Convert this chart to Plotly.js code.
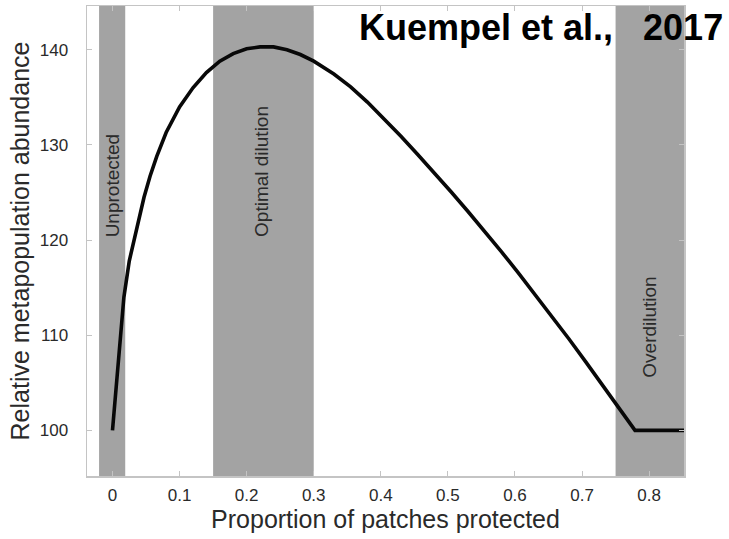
<!DOCTYPE html>
<html>
<head>
<meta charset="utf-8">
<script src="https://cdn.plot.ly/plotly-3.0.1.min.js"></script>
<style>
  html, body { margin: 0; padding: 0; background: #ffffff; }
  #chart { width: 729px; height: 539px; }
</style>
</head>
<body>
<div id="chart"></div>
<script>
// Proportion of patches protected vs relative metapopulation abundance
const proportion = [0, 0.017, 0.025, 0.033, 0.04, 0.047, 0.056, 0.066, 0.08, 0.1, 0.12,
  0.14, 0.16, 0.18, 0.2, 0.22, 0.24, 0.26, 0.28, 0.3, 0.33,
  0.355, 0.38, 0.405, 0.43, 0.455, 0.48, 0.505, 0.53, 0.555, 0.58,
  0.605, 0.63, 0.655, 0.68, 0.705, 0.73, 0.755, 0.779, 0.852];
const abundance = [100, 114, 117.8, 120.2, 122.6, 124.5, 126.7, 128.8, 131.3, 134.0, 136.0,
  137.6, 138.8, 139.6, 140.1, 140.3, 140.3, 140.0, 139.5, 138.8, 137.45,
  136.1, 134.5, 132.75, 130.9, 129.0, 127.05, 125.05, 123.0, 120.9, 118.75,
  116.55, 114.3, 112.0, 109.65, 107.25, 104.8, 102.3, 100.0, 100.0];

// Shaded regimes
const bandNames = ['Unprotected', 'Optimal dilution', 'Overdilution'];
const bandStart = [-0.02, 0.15, 0.75];
const bandEnd = [0.019, 0.30, 0.852];
const bandLabelX = [0, 0.222, 0.8];
const bandLabelY = [125.8, 127.2, 110.8];

// Axis ticks
const xTicks = [0, 0.1, 0.2, 0.3, 0.4, 0.5, 0.6, 0.7, 0.8];
const xTickText = ['0', '0.1', '0.2', '0.3', '0.4', '0.5', '0.6', '0.7', '0.8'];
const yTicks = [100, 110, 120, 130, 140];
const yTickText = ['100', '110', '120', '130', '140'];

const FONT = 'Liberation Sans, Arial, sans-serif';
const INK = '#2a2a2a';
const FRAME = '#c4c4c4';

const shapes = bandNames.map((_, i) => ({
  type: 'rect', layer: 'below', xref: 'x', yref: 'paper',
  x0: bandStart[i], x1: bandEnd[i], y0: 0, y1: 1,
  fillcolor: '#a3a3a3', line: { width: 0 }
}));

const annotations = bandNames.map((name, i) => ({
  text: name, xref: 'x', yref: 'y', x: bandLabelX[i], y: bandLabelY[i],
  textangle: -90, showarrow: false,
  xanchor: 'center', yanchor: 'middle',
  font: { family: FONT, size: 19, color: INK }
}));

const trace = {
  x: proportion, y: abundance, type: 'scatter', mode: 'lines',
  line: { color: '#080808', width: 3.6 },
  hoverinfo: 'skip'
};

const axisCommon = {
  showgrid: false, zeroline: false,
  showline: true, linecolor: FRAME, linewidth: 1.5,
  mirror: 'ticks', ticks: 'inside', ticklen: 5, tickcolor: FRAME, tickwidth: 1,
  tickfont: { family: FONT, size: 17, color: INK }
};

const layout = {
  width: 729, height: 539,
  margin: { l: 87, r: 45, t: 6, b: 63 },
  paper_bgcolor: '#ffffff', plot_bgcolor: '#ffffff',
  showlegend: false,
  title: {
    text: '<b>Kuempel et al.,\u00a0\u00a0 2017</b>',
    xref: 'container', yref: 'container',
    x: 0.992, xanchor: 'right', y: 0.95, yanchor: 'middle',
    font: { family: FONT, size: 36, color: '#000000' }
  },
  xaxis: Object.assign({}, axisCommon, {
    range: [-0.038, 0.852],
    tickvals: xTicks, ticktext: xTickText,
    ticklabelstandoff: 3,
    title: { text: 'Proportion of patches protected', standoff: 6,
      font: { family: FONT, size: 25, color: INK } }
  }),
  yaxis: Object.assign({}, axisCommon, {
    range: [95.2, 144.6],
    tickvals: yTicks, ticktext: yTickText,
    ticklabelstandoff: 14,
    title: { text: 'Relative metapopulation abundance', standoff: 3,
      font: { family: FONT, size: 25, color: INK } }
  }),
  shapes: shapes,
  annotations: annotations
};

Plotly.newPlot('chart', [trace], layout, { displayModeBar: false, staticPlot: true });
</script>
</body>
</html>
